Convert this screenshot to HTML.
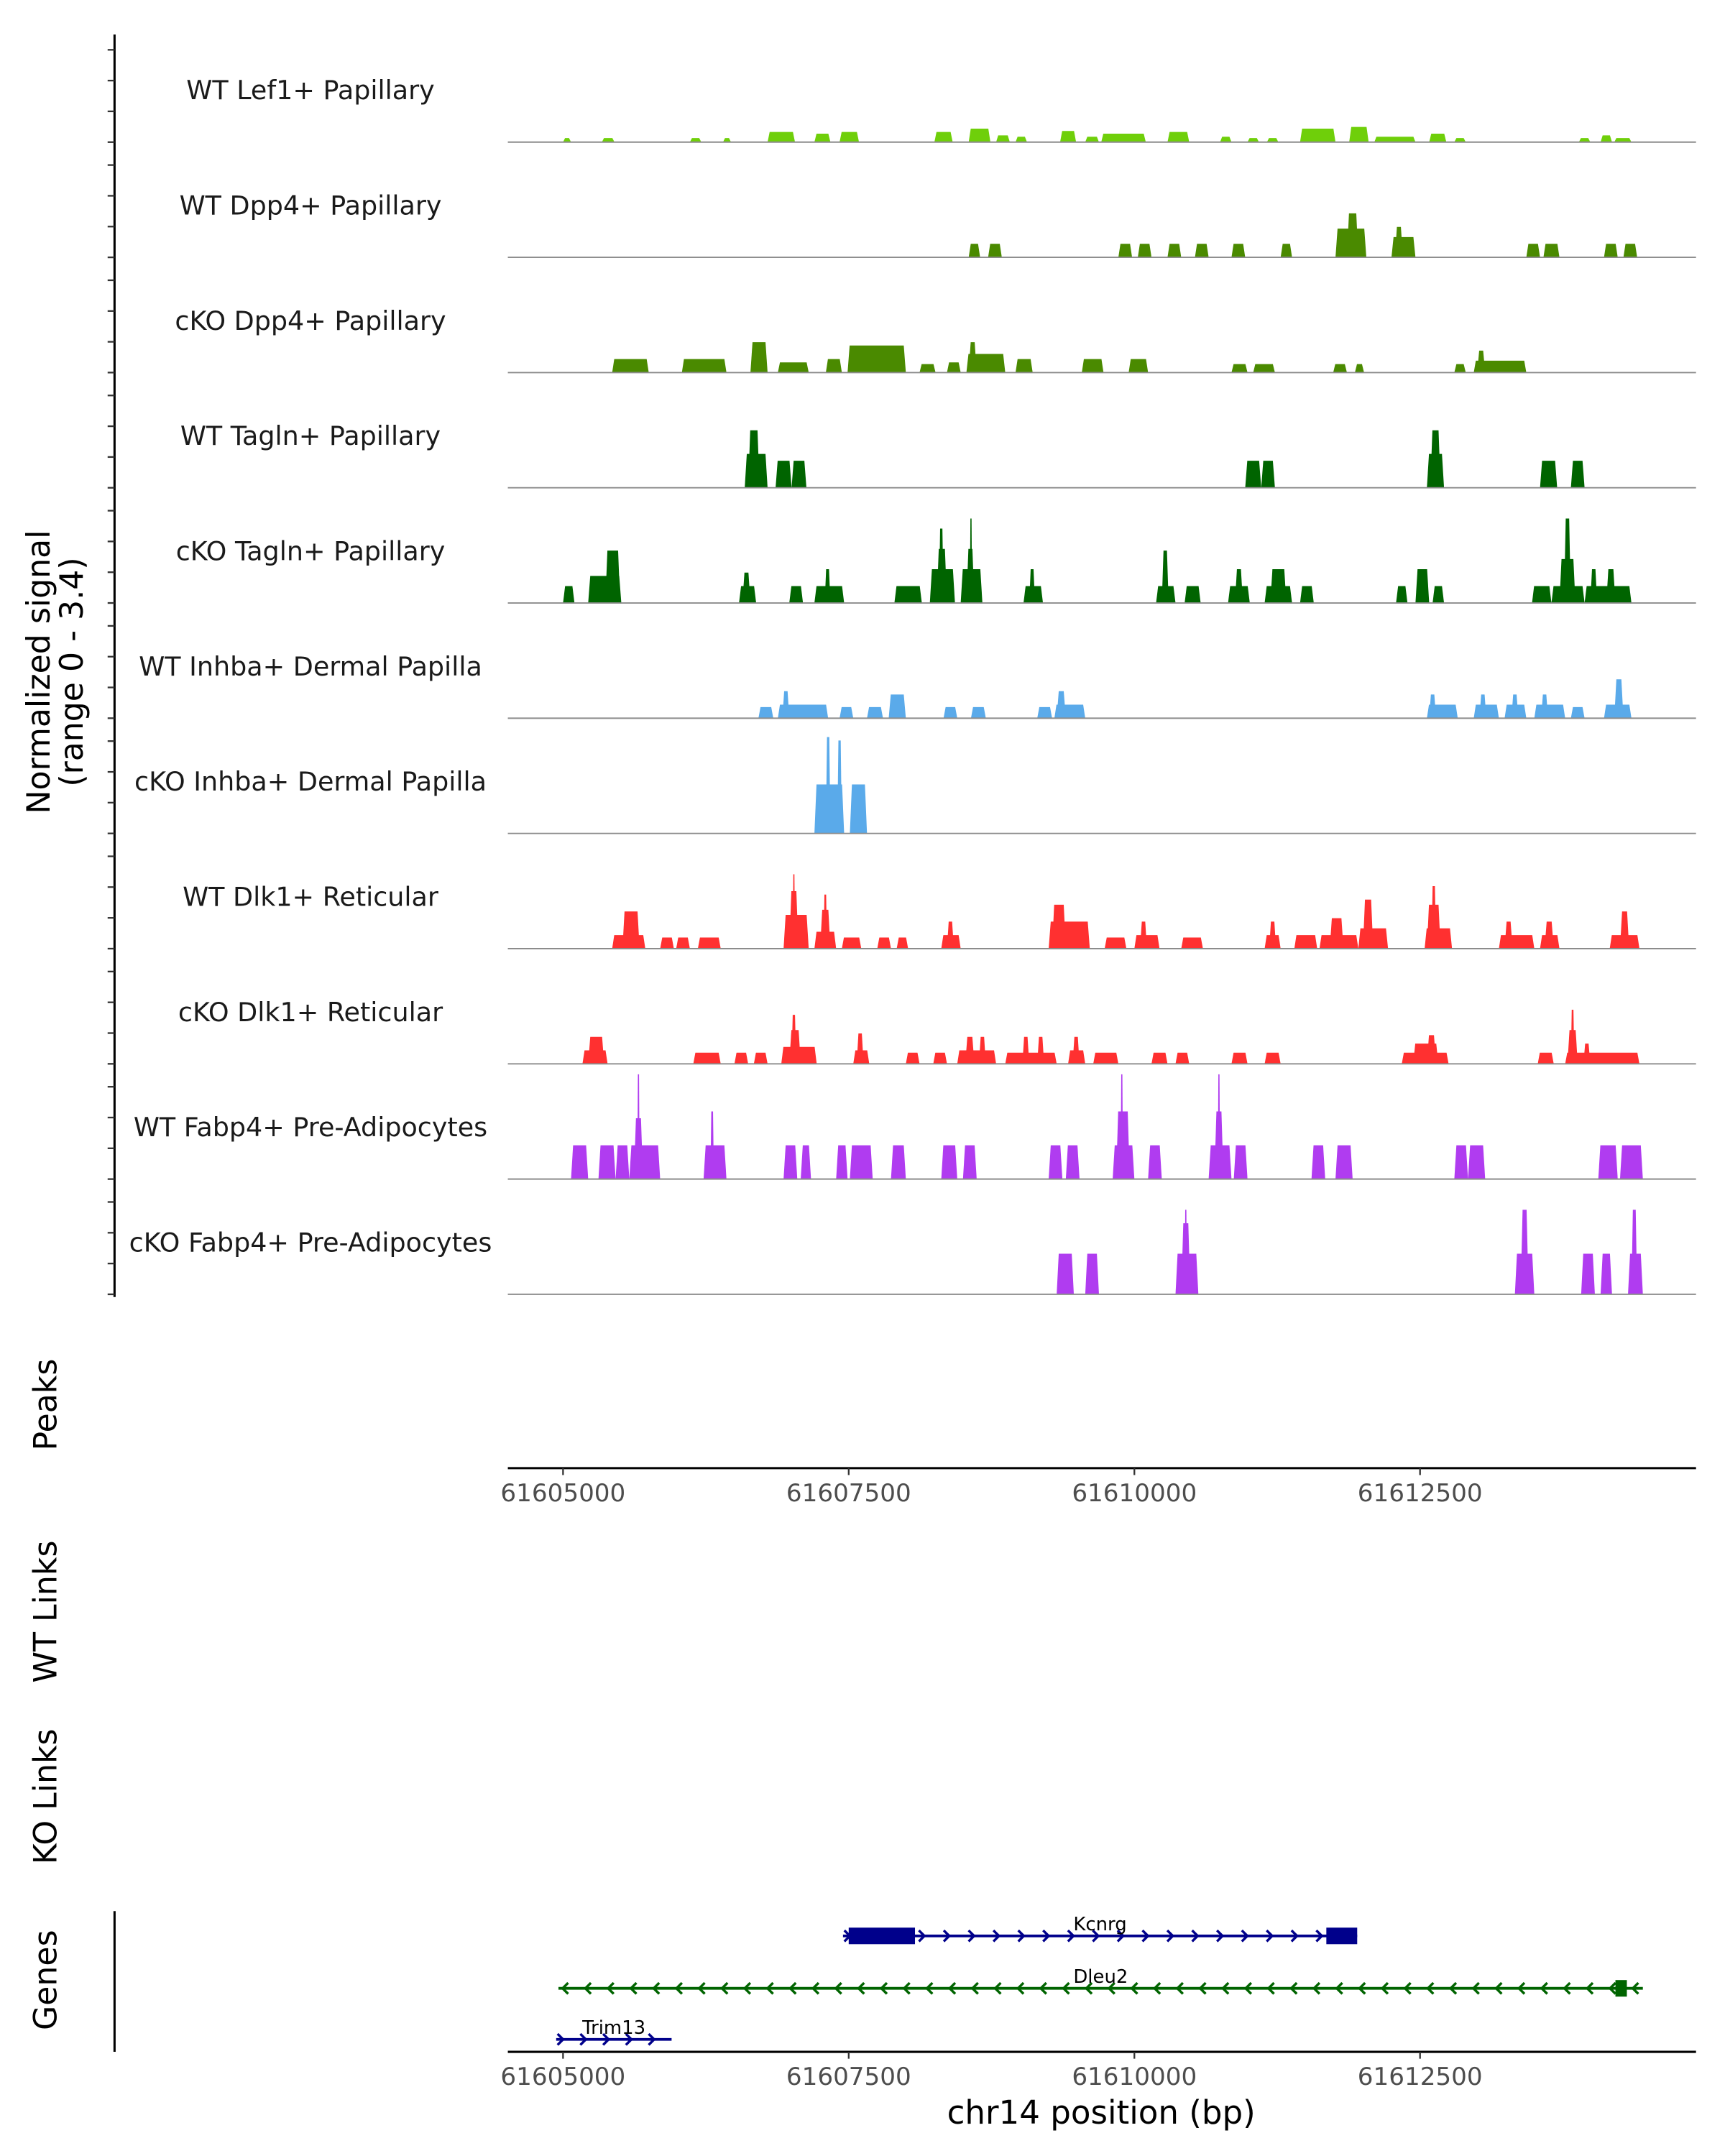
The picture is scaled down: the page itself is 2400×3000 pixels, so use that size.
<!DOCTYPE html>
<html><head><meta charset="utf-8">
<style>
html,body{margin:0;padding:0;background:#fff;}
svg{display:block;font-family:"DejaVu Sans","Liberation Sans",sans-serif;}
</style></head>
<body>
<svg id="chart" width="2400" height="3000" viewBox="0 0 1250 1562.5" xmlns="http://www.w3.org/2000/svg"></svg>
<script>
const REGION_ANCHOR = 61605000;
const trackNames = ["WT Lef1+ Papillary","WT Dpp4+ Papillary","cKO Dpp4+ Papillary","WT Tagln+ Papillary","cKO Tagln+ Papillary","WT Inhba+ Dermal Papilla","cKO Inhba+ Dermal Papilla","WT Dlk1+ Reticular","cKO Dlk1+ Reticular","WT Fabp4+ Pre-Adipocytes","cKO Fabp4+ Pre-Adipocytes"];
const trackColors = ["#6fcf0a","#4a8a00","#4a8a00","#006400","#006400","#5aaaea","#5aaaea","#ff3030","#ff3030","#b03cf0","#b03cf0"];
// peaks: [startOffsetBp, endOffsetBp, value]
const lef1WT = [[0,70,0.12],[340,450,0.12],[1110,1210,0.12],[1400,1470,0.12],[1790,2030,0.3],[2200,2340,0.25],[2420,2590,0.3],[3250,3410,0.3],[3550,3740,0.4],[3790,3910,0.2],[3960,4060,0.16],[4350,4490,0.33],[4570,4690,0.16],[4710,5100,0.25],[5290,5480,0.3],[5750,5850,0.16],[5990,6090,0.12],[6160,6260,0.12],[6450,6760,0.4],[6880,7050,0.45],[7100,7460,0.16],[7580,7730,0.25],[7800,7900,0.12],[8890,8990,0.12],[9080,9180,0.2],[9200,9350,0.12]];
const dpp4WT = [[3550,3650,0.4],[3720,3840,0.4],[4860,4980,0.4],[5030,5150,0.4],[5290,5410,0.4],[5530,5650,0.4],[5850,5970,0.4],[6280,6380,0.4],[6760,7030,0.85],[6860,6960,1.3],[7250,7460,0.6],[7280,7350,0.9],[8430,8550,0.4],[8580,8720,0.4],[9110,9230,0.4],[9280,9400,0.4]];
const dpp4KO = [[430,750,0.4],[1040,1430,0.4],[1640,1790,0.9],[1880,2150,0.3],[2300,2440,0.4],[2490,3000,0.8],[3120,3260,0.25],[3360,3480,0.3],[3530,3870,0.55],[3550,3620,0.9],[3960,4110,0.4],[4540,4730,0.4],[4950,5120,0.4],[5850,5990,0.25],[6040,6230,0.25],[6740,6860,0.25],[6930,7010,0.25],[7800,7900,0.25],[7970,8430,0.35],[8000,8070,0.65]];
const taglnWT = [[1590,1790,1.0],[1620,1720,1.7],[1860,2000,0.8],[2000,2130,0.8],[5970,6110,0.8],[6110,6230,0.8],[7560,7710,1.0],[7590,7680,1.7],[8550,8700,0.8],[8820,8940,0.8]];
const taglnKO = [[0,100,0.5],[220,510,0.8],[370,500,1.55],[1540,1690,0.5],[1570,1640,0.9],[1980,2100,0.5],[2200,2460,0.5],[2290,2340,1.0],[2900,3140,0.5],[3210,3430,1.0],[3270,3360,1.6],[3290,3330,2.2],[3480,3670,1.0],[3530,3600,1.6],[3560,3580,2.5],[4030,4200,0.5],[4080,4130,1.0],[5190,5360,0.5],[5240,5300,1.55],[5440,5580,0.5],[5820,6010,0.5],[5880,5950,1.0],[6140,6380,0.5],[6190,6330,1.0],[6450,6570,0.5],[7290,7390,0.5],[7460,7580,1.0],[7610,7710,0.5],[8480,8650,0.5],[8650,8940,0.5],[8720,8860,1.3],[8760,8820,2.5],[8940,9350,0.5],[8990,9050,1.0],[9130,9210,1.0]];
const inhbaWT = [[1710,1840,0.33],[1880,2320,0.4],[1920,1980,0.8],[2420,2540,0.33],[2660,2800,0.33],[2850,3000,0.7],[3330,3450,0.33],[3570,3700,0.33],[4150,4280,0.33],[4300,4570,0.4],[4320,4400,0.8],[7560,7830,0.4],[7580,7640,0.7],[7970,8190,0.4],[8020,8080,0.7],[8240,8430,0.4],[8300,8360,0.7],[8500,8770,0.4],[8560,8620,0.7],[8820,8940,0.33],[9110,9350,0.4],[9200,9280,1.15]];
const inhbaKO = [[2200,2460,1.45],[2300,2340,2.85],[2400,2440,2.75],[2510,2660,1.45]];
const dlk1WT = [[430,720,0.4],[520,670,1.1],[850,970,0.33],[990,1110,0.33],[1180,1380,0.33],[1930,2150,1.0],[1980,2060,1.7],[2010,2030,2.2],[2200,2390,0.5],[2250,2340,1.15],[2280,2310,1.6],[2440,2610,0.33],[2750,2870,0.33],[2920,3020,0.33],[3310,3480,0.4],[3360,3420,0.8],[4250,4610,0.8],[4280,4400,1.3],[4740,4930,0.33],[5000,5220,0.4],[5050,5110,0.8],[5410,5600,0.33],[6140,6280,0.4],[6180,6240,0.8],[6400,6600,0.4],[6620,6960,0.4],[6710,6830,0.9],[6960,7220,0.6],[7000,7090,1.45],[7540,7780,0.6],[7560,7680,1.3],[7600,7640,1.85],[8190,8500,0.4],[8240,8310,0.8],[8550,8720,0.4],[8590,8670,0.8],[9160,9420,0.4],[9250,9330,1.1]];
const dlk1KO = [[170,390,0.4],[220,360,0.8],[1140,1380,0.33],[1500,1620,0.33],[1670,1790,0.33],[1910,2220,0.5],[1980,2080,1.0],[2000,2040,1.45],[2540,2680,0.4],[2570,2630,0.9],[3000,3120,0.33],[3240,3360,0.33],[3450,3790,0.4],[3520,3600,0.8],[3640,3700,0.8],[3870,4320,0.33],[4020,4080,0.8],[4150,4210,0.8],[4420,4570,0.4],[4460,4520,0.8],[4640,4860,0.33],[5150,5290,0.33],[5360,5480,0.33],[5850,5990,0.33],[6140,6280,0.33],[7340,7750,0.33],[7440,7660,0.6],[7560,7640,0.85],[8530,8670,0.33],[8770,9420,0.33],[8790,8880,1.0],[8820,8850,1.6],[8930,8990,0.6]];
const fabp4WT = [[70,220,1.0],[310,460,1.0],[460,580,1.0],[580,850,1.0],[620,700,1.8],[650,670,3.1],[1230,1430,1.0],[1290,1320,2.0],[1930,2050,1.0],[2080,2170,1.0],[2390,2490,1.0],[2510,2710,1.0],[2870,3000,1.0],[3310,3450,1.0],[3500,3620,1.0],[4250,4370,1.0],[4400,4520,1.0],[4810,5000,1.0],[4840,4960,2.0],[4880,4900,3.1],[5120,5240,1.0],[5650,5850,1.0],[5700,5780,2.0],[5730,5750,3.1],[5870,5990,1.0],[6550,6670,1.0],[6760,6910,1.0],[7800,7920,1.0],[7920,8070,1.0],[9060,9230,1.0],[9250,9450,1.0]];
const fabp4KO = [[4320,4470,1.2],[4570,4690,1.2],[5360,5560,1.2],[5410,5490,2.1],[5440,5460,2.5],[8330,8500,1.2],[8380,8450,2.5],[8910,9030,1.2],[9080,9180,1.2],[9320,9450,1.2],[9350,9400,2.5]];
const trackData = [lef1WT,dpp4WT,dpp4KO,taglnWT,taglnKO,inhbaWT,inhbaKO,dlk1WT,dlk1KO,fabp4WT,fabp4KO];
const xTicks = [61605000,61607500,61610000,61612500];
const yTicksPerTrack = [0,1,2,3];
const geneNames = ["Kcnrg","Dleu2","Trim13"];
const geneStarts = [2450,-40,-60];
const geneEnds = [6950,9450,950];
const geneStrands = [1,-1,1];
const geneExons = [[[2500,3080],[6680,6950]],[[9210,9310]],[]];
const geneColors = ["#00008b","#006400","#00008b"];

const svg = document.getElementById('chart');
const NS = 'http://www.w3.org/2000/svg';
function mk(tag, attrs, parent){const e=document.createElementNS(NS,tag);for(const k in attrs)e.setAttribute(k,attrs[k]);(parent||svg).appendChild(e);return e;}
const X0=368, X1=1229;
function xs(offset){return 408 + offset/12.077;}
function xbp(bp){return xs(bp-REGION_ANCHOR);}
const baseTop=103, trackH=83.5, unitPx=24.5, tickPx=22.3;

const ax=mk('line',{x1:83,y1:25,x2:83,y2:940,stroke:'#000','stroke-width':1.6});


for(let t=0;t<trackData.length;t++){
  const base=baseTop+t*trackH;
  for(const v of yTicksPerTrack){
    const y=base-v*tickPx;
    const tk=mk('line',{x1:78,y1:y,x2:83,y2:y,stroke:'#333','stroke-width':1.2});
    
    
  }
}
const yl=mk('text',{x:0,y:0,'font-size':23,'text-anchor':'middle',fill:'#000',transform:'translate(40,487) rotate(-90)'});


const t1=mk('tspan',{x:0,dy:-4},yl);t1.textContent='Normalized signal';
const t2=mk('tspan',{x:0,dy:24},yl);t2.textContent='(range 0 - 3.4)';

trackData.forEach((peaks,t)=>{
  const base=baseTop+t*trackH;
  const g=mk('g',{});
  
  
  const lab=mk('text',{x:225,y:base-31,'font-size':19,'text-anchor':'middle',fill:'#1a1a1a'},g);
  lab.textContent=trackNames[t];
  
  
  peaks.forEach(p=>{
    const a=xs(p[0]),b=xs(p[1]),h=p[2]*unitPx,s=Math.min(1.5,(b-a)/4);
    const poly=mk('polygon',{points:`${a},${base} ${a+s},${base-h} ${b-s},${base-h} ${b},${base}`,fill:trackColors[t]},g);
    
    
  });
  const bl=mk('line',{x1:X0,y1:base,x2:X1,y2:base,stroke:'#8c8c8c','stroke-width':1},g);
  
  
});

function xAxis(y,name){
  const l=mk('line',{x1:X0,y1:y,x2:X1,y2:y,stroke:'#000','stroke-width':1.6});
  
  
  xTicks.forEach(v=>{
    const x=xbp(v);
    const tk=mk('line',{x1:x,y1:y,x2:x,y2:y+5,stroke:'#333','stroke-width':1.2});
    
    
    const tl=mk('text',{x:x,y:y+24,'font-size':17.8,'text-anchor':'middle',fill:'#4d4d4d'});
    tl.textContent=String(v);
    
    
  });
}
xAxis(1064,'peaks-x-axis');
xAxis(1487,'genes-x-axis');

function rotLabel(text,y,name){
  const e=mk('text',{x:0,y:0,'font-size':23,'text-anchor':'middle',fill:'#000',transform:`translate(41,${y}) rotate(-90)`});
  e.textContent=text;
  
  
}
rotLabel('Peaks',1018,'peaks-label');
rotLabel('WT Links',1168,'wt-links-label');
rotLabel('KO Links',1302,'ko-links-label');
rotLabel('Genes',1435,'genes-label');
const ga=mk('line',{x1:83,y1:1385,x2:83,y2:1487,stroke:'#000','stroke-width':1.6});


const xt=mk('text',{x:798,y:1539,'font-size':23.5,'text-anchor':'middle',fill:'#000'});
xt.textContent='chr14 position (bp)';



const geneY=[1403,1441,1478];
geneNames.forEach((n,i)=>{
  const y=geneY[i],c=geneColors[i];
  const g=mk('g',{});
  
  
  const a=xs(geneStarts[i]),b=xs(geneEnds[i]);
  mk('line',{x1:a,y1:y,x2:b,y2:y,stroke:c,'stroke-width':2},g);
  const step=i===0?18:16.5;
  for(let x=a+4;x<b-6;x+=step){
    const d=geneStrands[i]>0?`M${x-3},${y-4} L${x+1},${y} L${x-3},${y+4}`:`M${x+3},${y-4} L${x-1},${y} L${x+3},${y+4}`;
    mk('path',{d:d,stroke:c,'stroke-width':1.8,fill:'none'},g);
  }
  geneExons[i].forEach(ex=>{
    const r=mk('rect',{x:xs(ex[0]),y:y-6,width:xs(ex[1])-xs(ex[0]),height:12,fill:c},g);
    
    
  });
  const lab=mk('text',{x:(a+b)/2,y:y-4,'font-size':13.5,'text-anchor':'middle',fill:'#000'},g);
  lab.textContent=n;
  
  
});
</script>
</body></html>
